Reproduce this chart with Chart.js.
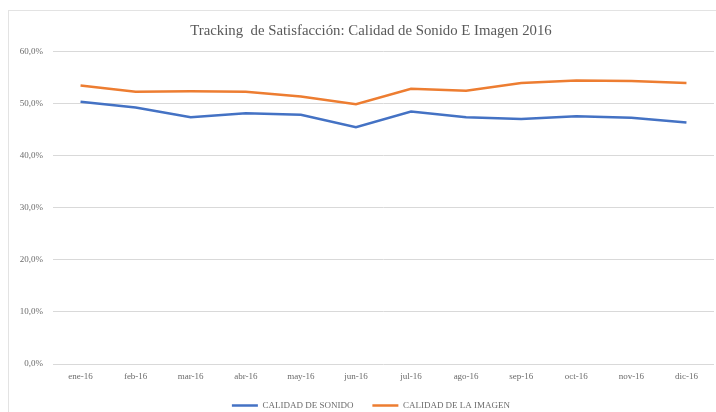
<!DOCTYPE html>
<html>
<head>
<meta charset="utf-8">
<script src="https://cdn.jsdelivr.net/npm/chart.js@4"></script>
<style>
  html, body { margin: 0; padding: 0; background: #fff; overflow: hidden; }
  #wrap { position: relative; width: 716px; height: 412px; }
  #frame { position: absolute; left: 8px; top: 10px; width: 716px; height: 412px; border: 1px solid #e3e3e3; }
  #satisChart { position: absolute; left: 0; top: 0; }
</style>
</head>
<body>
<div id="wrap">
  <div id="frame"></div>
  <canvas id="satisChart" width="716" height="412"></canvas>
</div>
<script>
// Months of 2016
const meses = ["ene-16", "feb-16", "mar-16", "abr-16", "may-16", "jun-16",
  "jul-16", "ago-16", "sep-16", "oct-16", "nov-16", "dic-16"];

// Satisfaction (%) per month
const calidadSonido = [50.4, 49.3, 47.4, 48.2, 47.9, 45.5, 48.5, 47.4, 47.1, 47.6, 47.3, 46.4];
const calidadImagen = [53.5, 52.3, 52.4, 52.3, 51.4, 49.9, 52.9, 52.5, 54.0, 54.5, 54.4, 54.0];

const ctx = document.getElementById("satisChart").getContext("2d");
const fuente = "'Liberation Serif', 'Times New Roman', serif";
const gris = "#6b6b6b";

// Title and legend sit centred on the outer frame, a bit right of the canvas centre
const centrarEnMarco = {
  id: "centrarEnMarco",
  afterLayout(chart) {
    [chart.titleBlock, chart.legend].forEach((box) => {
      box.left += 14;
      box.right += 14;
    });
  },
};

let chart = new Chart(ctx, {
  type: "line",
  data: {
    labels: meses,
    datasets: [
      {
        label: "CALIDAD DE SONIDO",
        data: calidadSonido,
        borderColor: "#4472C4",
        backgroundColor: "#4472C4",
        borderWidth: 2.5,
        pointRadius: 0,
        tension: 0,
        fill: false,
      },
      {
        label: "CALIDAD DE LA IMAGEN",
        data: calidadImagen,
        borderColor: "#ED7D31",
        backgroundColor: "#ED7D31",
        borderWidth: 2.5,
        pointRadius: 0,
        tension: 0,
        fill: false,
      },
    ],
  },
  plugins: [centrarEnMarco],
  options: {
    responsive: false,
    animation: false,
    layout: { padding: { left: 0, right: 2, top: 0, bottom: -8 } },
    scales: {
      x: {
        offset: true,
        grid: { display: false, drawTicks: false },
        border: { display: false },
        ticks: {
          color: gris,
          font: { family: fuente, size: 9 },
          padding: 7,
          maxRotation: 0,
        },
        afterFit: (scale) => { scale.height = 18; },
      },
      y: {
        min: 0,
        max: 60,
        ticks: {
          stepSize: 10,
          color: gris,
          font: { family: fuente, size: 9 },
          padding: 10,
          callback: (v) => v.toFixed(1).replace(".", ",") + "%",
        },
        grid: { color: "#d9d9d9", lineWidth: 1, drawTicks: false },
        border: { display: false },
        afterFit: (scale) => { scale.width = 53; },
      },
    },
    plugins: {
      title: {
        display: true,
        text: "Tracking  de Satisfacción: Calidad de Sonido E Imagen 2016",
        color: "#595959",
        font: { family: fuente, size: 14.8, weight: "normal" },
        padding: { top: 22, bottom: 12 },
      },
      legend: {
        position: "bottom",
        labels: {
          color: gris,
          font: { family: fuente, size: 9 },
          usePointStyle: true,
          pointStyle: "line",
          pointStyleWidth: 26,
          padding: 19,
        },
      },
      tooltip: { enabled: false },
    },
  },
});
</script>
</body>
</html>
